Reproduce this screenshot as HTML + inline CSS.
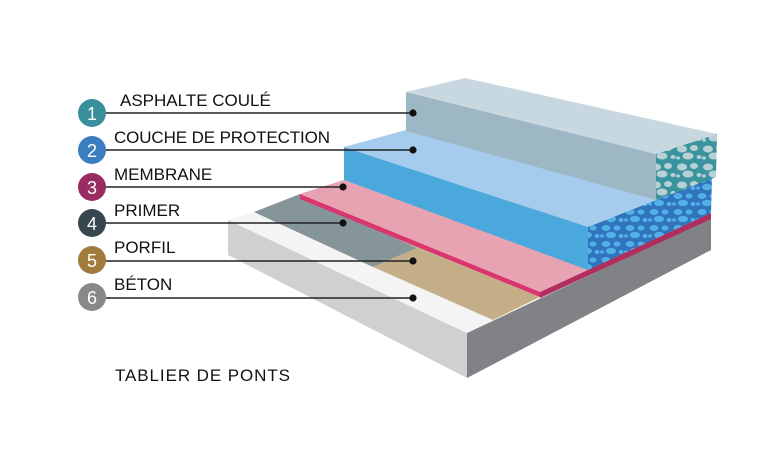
<!DOCTYPE html>
<html><head><meta charset="utf-8"><style>
html,body{margin:0;padding:0;background:#fff;width:768px;height:458px;overflow:hidden}
svg{display:block}
text{font-family:"Liberation Sans",sans-serif}
</style></head><body>
<svg width="768" height="458" viewBox="0 0 768 458" xmlns="http://www.w3.org/2000/svg">
<defs>
<pattern id="pt" width="26" height="18" patternUnits="userSpaceOnUse">
<rect width="26" height="18" fill="#3a949e"/>
<ellipse cx="6" cy="5" rx="5" ry="3.5" fill="#b8cfd6"/>
<ellipse cx="18" cy="4" rx="4" ry="3" fill="#b8cfd6"/>
<ellipse cx="12" cy="12" rx="5.5" ry="3.5" fill="#b8cfd6"/>
<ellipse cx="23" cy="13" rx="2.5" ry="2" fill="#b8cfd6"/>
<ellipse cx="2" cy="14" rx="2" ry="1.6" fill="#b8cfd6"/>
</pattern>
<pattern id="pb" width="24" height="16" patternUnits="userSpaceOnUse">
<rect width="24" height="16" fill="#2f74bd"/>
<ellipse cx="6" cy="4" rx="4.5" ry="3" fill="#52b0e4"/>
<ellipse cx="17" cy="4" rx="3.5" ry="2.5" fill="#52b0e4"/>
<ellipse cx="11" cy="11" rx="5" ry="3.2" fill="#52b0e4"/>
<ellipse cx="21" cy="12" rx="2.5" ry="2" fill="#52b0e4"/>
<ellipse cx="2" cy="12" rx="2" ry="1.6" fill="#52b0e4"/>
</pattern>
</defs>
<polygon points="228,220 467,333 467,378 228,255" fill="#cfd0d2"/>
<polygon points="467,333 711,218 711,250 467,378" fill="#818285"/>
<polygon points="228,220 254,212 493,320 467,333" fill="#f4f4f4"/>
<polygon points="254,212 300,194 417,248 373,267" fill="#86959a"/>
<polygon points="373,267 417,248 540,297 493,320" fill="#c4ae88"/>
<polygon points="417,248 540,297 711,218 711,213 300,194" fill="#c4ae88"/>
<polygon points="300,194 344,180 588,270 711,213 711,218 540,297" fill="#e8a3b2"/>
<polygon points="300,194 540,292 540,297 300,199" fill="#d9356f"/>
<polygon points="540,292 711,213 711,219 540,298" fill="#b02e5e"/>
<polygon points="300,194 344,180 588,270 540,292" fill="#e8a3b2"/>
<polygon points="344,147 344,180 588,270 588,227" fill="#4aa8dd"/>
<polygon points="588,227 712,178 711,213 588,270" fill="url(#pb)"/>
<polygon points="344,147 406,130 656,200 712,178 588,227" fill="#a5ccec"/>
<polygon points="406,92 406,131 656,200 656,154" fill="#9db8c4"/>
<polygon points="656,154 717,134 716,177 656,200" fill="url(#pt)"/>
<polygon points="406,92 465,78 717,134 656,154" fill="#c8d8e0"/>
<g stroke="#222" stroke-width="1.4">
<line x1="92" y1="113" x2="413" y2="113"/>
<line x1="92" y1="150" x2="413" y2="150"/>
<line x1="92" y1="187" x2="343" y2="187"/>
<line x1="92" y1="223" x2="343" y2="223"/>
<line x1="92" y1="261" x2="413" y2="261"/>
<line x1="92" y1="298" x2="413" y2="298"/>
</g>
<g fill="#111">
<circle cx="413" cy="113" r="3.6"/><circle cx="413" cy="150" r="3.6"/>
<circle cx="343" cy="187" r="3.6"/><circle cx="343" cy="223" r="3.6"/>
<circle cx="413" cy="261" r="3.6"/><circle cx="413" cy="298" r="3.6"/>
</g>
<g font-size="18" fill="#fff" text-anchor="middle">
<circle cx="92" cy="113" r="14" fill="#3a8f9c"/><text x="92" y="120">1</text>
<circle cx="92" cy="150" r="14" fill="#3b7ec0"/><text x="92" y="157">2</text>
<circle cx="92" cy="187" r="14" fill="#9a2c62"/><text x="92" y="194">3</text>
<circle cx="92" cy="223" r="14" fill="#37474f"/><text x="92" y="230">4</text>
<circle cx="92" cy="260" r="14" fill="#a07c3c"/><text x="92" y="267">5</text>
<circle cx="92" cy="297" r="14" fill="#86888a"/><text x="92" y="304">6</text>
</g>
<g font-size="17" fill="#111">
<text x="120" y="106">ASPHALTE COULÉ</text>
<text x="114" y="143" textLength="216">COUCHE DE PROTECTION</text>
<text x="114" y="180">MEMBRANE</text>
<text x="114" y="216">PRIMER</text>
<text x="114" y="253">PORFIL</text>
<text x="114" y="290">BÉTON</text>
<text x="115" y="381" textLength="175">TABLIER DE PONTS</text>
</g>
</svg>
</body></html>
